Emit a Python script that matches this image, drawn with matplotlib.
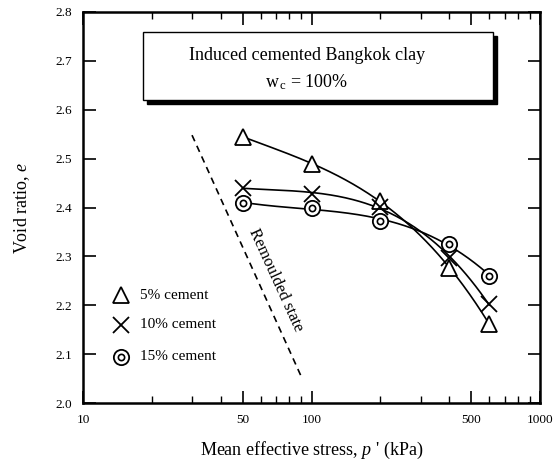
import numpy as np
import matplotlib
matplotlib.use("Agg")
import matplotlib.pyplot as plt
from matplotlib.ticker import FixedLocator, NullFormatter, FixedFormatter
from matplotlib.patches import Rectangle

# ---- data ----
stress = [50, 100, 200, 400, 600]
e_5 = [2.545, 2.489, 2.414, 2.276, 2.162]
e_10 = [2.44, 2.428, 2.402, 2.297, 2.202]
e_15 = [2.41, 2.399, 2.372, 2.326, 2.26]
series_labels = ["5% cement", "10% cement", "15% cement"]
remoulded_p = [30, 90]
remoulded_e = [2.548, 2.055]
xticks_major = [10, 50, 100, 500, 1000]
xtick_labels = ["10", "50", "100", "500", "1000"]
yticks = [2.0, 2.1, 2.2, 2.3, 2.4, 2.5, 2.6, 2.7, 2.8]

plt.rcParams['font.family'] = ['Liberation Serif', 'DejaVu Serif']
plt.rcParams['mathtext.fontset'] = 'custom'
plt.rcParams['mathtext.it'] = 'Liberation Serif:italic'
plt.rcParams['mathtext.rm'] = 'Liberation Serif'

fig = plt.figure(figsize=(5.58, 4.72), dpi=100)
ax = fig.add_axes([83/558, 1-403/472, (540-83)/558, (403-12)/472])
ax.set_xscale('log')
ax.set_xlim(10, 1000)
ax.set_ylim(2.0, 2.8)

def smooth(x, y):
    lx = np.log10(x)
    c = np.polyfit(lx, y, 3)
    xs = np.linspace(lx[0], lx[-1], 200)
    return 10**xs, np.polyval(c, xs)

lw = 1.2
for ys in (e_5, e_10, e_15):
    xs, yy = smooth(stress, ys)
    ax.plot(xs, yy, color='black', lw=lw, zorder=2)

ax.plot(stress, e_5, ls='none', marker='^', ms=11, mfc='white', mec='black', mew=1.3, zorder=3)
ax.plot(stress, e_10, ls='none', marker='x', ms=11, mec='black', mew=1.3, zorder=3)
ax.plot(stress, e_15, ls='none', marker='o', ms=11, mfc='white', mec='black', mew=1.3, zorder=3)
ax.plot(stress, e_15, ls='none', marker='o', ms=4.5, mfc='white', mec='black', mew=1.2, zorder=4)

ax.plot(remoulded_p, remoulded_e, color='black', ls=(0, (4, 3)), lw=1.2)
ax.text(70, 2.252, "Remoulded state", rotation=-65.5, ha='center', va='center',
        fontsize=12, rotation_mode='anchor')

# legend
lx_m, lx_t = 0.083, 0.125
ly = [0.276, 0.2, 0.118]
ax.plot([lx_m], [ly[0]], transform=ax.transAxes, marker='^', ms=11, mfc='white', mec='black', mew=1.3, clip_on=False)
ax.plot([lx_m], [ly[1]], transform=ax.transAxes, marker='x', ms=11, mec='black', mew=1.3, clip_on=False)
ax.plot([lx_m], [ly[2]], transform=ax.transAxes, marker='o', ms=11, mfc='white', mec='black', mew=1.3, clip_on=False)
ax.plot([lx_m], [ly[2]], transform=ax.transAxes, marker='o', ms=4.5, mfc='white', mec='black', mew=1.2, clip_on=False)
for yy, lab in zip(ly, series_labels):
    ax.text(lx_t, yy, lab, transform=ax.transAxes, ha='left', va='center', fontsize=11)

# title box with shadow
bx0, bx1, by0, by1 = 0.131, 0.897, 0.775, 0.949
ax.add_patch(Rectangle((bx0 + 0.008, by0 - 0.01), bx1 - bx0, by1 - by0, transform=ax.transAxes,
                       facecolor='black', edgecolor='black', zorder=5))
ax.add_patch(Rectangle((bx0, by0), bx1 - bx0, by1 - by0, transform=ax.transAxes,
                       facecolor='white', edgecolor='black', lw=1.0, zorder=6))
ax.text(0.49, 0.89, "Induced cemented Bangkok clay", transform=ax.transAxes,
        ha='center', va='center', fontsize=13, zorder=7)
ax.text(0.49, 0.821, r"w$_{\,\mathrm{c}}$ = 100%", transform=ax.transAxes,
        ha='center', va='center', fontsize=13, zorder=7)

# ticks
ax.xaxis.set_major_locator(FixedLocator(xticks_major))
ax.xaxis.set_major_formatter(FixedFormatter(xtick_labels))
minor = [v * d for d in (10, 100) for v in range(2, 10) if v not in (5,)]
ax.xaxis.set_minor_locator(FixedLocator(minor))
ax.xaxis.set_minor_formatter(NullFormatter())
ax.set_yticks(yticks)
ax.set_yticklabels([f"{v:.1f}" for v in yticks])
ax.tick_params(which='major', direction='in', length=9, width=1.2, top=True, right=True,
               labelsize=9.5, pad=8)
ax.tick_params(which='minor', direction='in', length=5, width=1.0, top=True, right=True)
for s in ax.spines.values():
    s.set_linewidth(1.8)

ax.set_ylabel(r"Void ratio, $\it{e}$", fontsize=13, labelpad=17)
ax.set_xlabel(r"Mean effective stress, $\it{p}$ ' (kPa)", fontsize=13, labelpad=10)

fig.savefig("out.png", dpi=100)
